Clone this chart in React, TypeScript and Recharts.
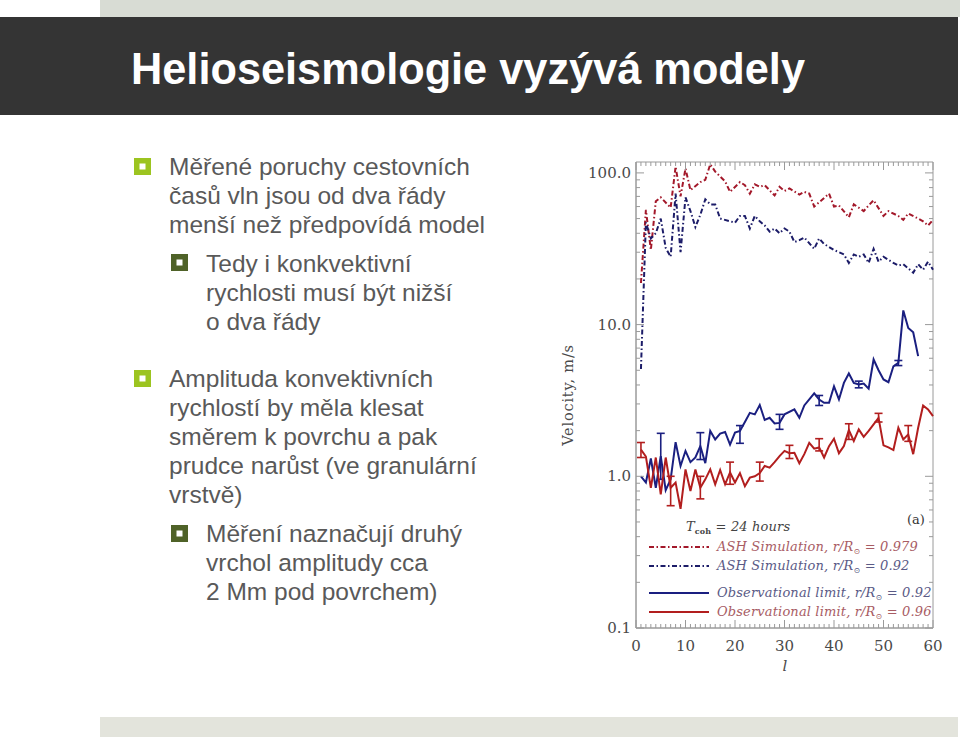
import React from "react";
import { LineChart, Line, XAxis, YAxis, ErrorBar, ReferenceArea } from "recharts";

// ASH simulation, r/R = 0.979 (red dash-dot)
const ashOuterL = [1, 2, 3, 4, 5, 7, 8, 9, 10, 11, 13, 14, 15, 16, 18, 19, 21, 22, 23, 24, 25, 26, 28, 29, 30, 31, 33, 34, 35, 36, 37, 39, 40, 41, 43, 44, 46, 47, 48, 50, 51, 53, 54, 55, 57, 58, 59, 60];
const ashOuterV = [18.8, 57, 31, 65, 69, 59, 110, 70, 107, 77, 87, 90, 114, 102, 88, 75, 87, 83, 73, 84, 81, 83, 71, 81, 76, 79, 72, 75, 73, 60, 64, 73, 60, 61, 51, 62, 56, 61, 66, 52, 56, 52, 49, 54, 50, 48, 45, 49];

// ASH simulation, r/R = 0.92 (blue dash-dot)
const ashDeepL = [1, 2, 3, 4, 5, 6, 7, 8, 9, 10, 11, 12, 13, 14, 15, 16, 17, 19, 20, 21, 22, 23, 24, 25, 26, 27, 28, 29, 30, 31, 32, 33, 34, 36, 37, 38, 40, 41, 42, 43, 44, 45, 46, 47, 48, 49, 50, 52, 53, 54, 56, 57, 58, 59, 60];
const ashDeepV = [5.1, 47, 37, 40, 50, 32, 28, 73, 30, 69, 56, 44, 53, 67, 62, 62, 50, 48, 47, 52, 52, 43, 52, 48, 45, 41, 43, 40, 43, 41, 35, 36, 37.5, 31.6, 37, 34, 31, 30, 29, 25.5, 29, 28, 29, 25.5, 31.6, 26, 28, 25.5, 24.5, 25, 22, 25, 23, 26, 23];

// observational limit, r/R = 0.92 (blue solid)
const obsDeepL = [1, 2, 3, 4, 5, 6, 7, 8, 9, 10, 11, 12, 13, 14, 15, 16, 17, 18, 19, 20, 21, 22, 23, 24, 25, 26, 27, 28, 29, 30, 32, 33, 34, 36, 37, 38, 39, 40, 41, 42, 43, 44, 45, 46, 47, 48, 49, 50, 51, 52, 53, 54, 55, 56, 57];
const obsDeepV = [1.0, 0.91, 1.31, 0.84, 1.36, 0.81, 0.955, 1.68, 1.17, 1.47, 1.24, 1.33, 1.58, 1.22, 1.99, 1.75, 1.91, 1.96, 1.62, 1.94, 1.99, 2.28, 2.62, 2.56, 2.95, 2.35, 2.43, 2.23, 2.25, 2.56, 2.76, 2.43, 2.93, 3.52, 3.21, 3.05, 3.05, 3.92, 3.21, 4.13, 4.76, 4.13, 4.03, 4.09, 3.78, 5.89, 5.0, 4.35, 4.17, 5.31, 5.59, 12.4, 9.5, 8.9, 6.2];
const obsDeepErrL = [5, 13, 21, 29, 37, 45, 53];
const obsDeepErrLo = [0.955, 1.29, 1.65, 2.04, 2.93, 3.83, 5.37];
const obsDeepErrHi = [1.92, 1.94, 2.16, 2.56, 3.41, 4.24, 5.8];

// observational limit, r/R = 0.96 (red solid)
const obsOuterL = [1, 2, 3, 4, 5, 6, 7, 8, 9, 10, 11, 12, 13, 14, 15, 16, 17, 18, 19, 20, 21, 22, 23, 24, 25, 26, 27, 28, 29, 30, 31, 32, 33, 34, 35, 36, 37, 38, 39, 40, 41, 42, 43, 44, 45, 46, 47, 48, 49, 50, 51, 52, 53, 54, 55, 56, 57, 58, 59, 60];
const obsOuterV = [1.5, 1.35, 0.84, 1.33, 0.76, 1.33, 0.84, 0.91, 0.61, 1.11, 0.8, 1.11, 0.84, 0.955, 1.11, 0.886, 1.1, 0.886, 1.06, 0.91, 1.05, 0.86, 0.98, 1.0, 1.05, 1.17, 1.14, 1.24, 1.36, 1.47, 1.42, 1.43, 1.22, 1.4, 1.66, 1.52, 1.55, 1.33, 1.58, 1.77, 1.42, 1.58, 2.02, 1.71, 2.04, 1.82, 1.99, 2.2, 2.43, 1.6, 1.55, 1.49, 2.09, 1.75, 1.89, 1.4, 2.09, 2.93, 2.76, 2.49];
const obsOuterErrL = [1, 7, 13, 19, 25, 31, 37, 43, 49, 55];
const obsOuterErrLo = [1.33, 0.64, 0.71, 0.886, 0.93, 1.31, 1.47, 1.75, 2.28, 1.7];
const obsOuterErrHi = [1.67, 1.0, 1.0, 1.24, 1.24, 1.6, 1.77, 2.22, 2.6, 2.16];

const yMajor = [0.1, 1, 10, 100];
const xMajor = [0, 10, 20, 30, 40, 50, 60];

const bulletLines1 = ["Měřené poruchy cestovních", "časů vln jsou od dva řády", "menší než předpovídá model"];
const subLines1 = ["Tedy i konkvektivní", "rychlosti musí být nižší", "o dva řády"];
const bulletLines2 = ["Amplituda konvektivních", "rychlostí by měla klesat", "směrem k povrchu a pak", "prudce narůst (ve granulární", "vrstvě)"];
const subLines2 = ["Měření naznačují druhý", "vrchol amplitudy cca", "2 Mm pod povrchem)"];

const yTicks: number[] = [];
for (let d = 0; d < 3; d++) {
  const base = yMajor[d];
  for (let k = 1; k < 10; k++) yTicks.push(base * k);
}
yTicks.push(100);
const xTicks: number[] = [];
for (let i = 0; i <= 60; i++) xTicks.push(i);

function rows(ls: number[], vs: number[], eL: number[] = [], eLo: number[] = [], eHi: number[] = []) {
  return ls.map((l, i) => {
    const j = eL.indexOf(l);
    const v = vs[i];
    return { l, v, err: j >= 0 ? [v - eLo[j], eHi[j] - v] : undefined };
  });
}

const ashOuter = rows(ashOuterL, ashOuterV);
const ashDeep = rows(ashDeepL, ashDeepV);
const obsDeep = rows(obsDeepL, obsDeepV, obsDeepErrL, obsDeepErrLo, obsDeepErrHi);
const obsOuter = rows(obsOuterL, obsOuterV, obsOuterErrL, obsOuterErrLo, obsOuterErrHi);

const RED_DASH = "#a3182a";
const BLUE_DASH = "#1c1c68";
const BLUE = "#1a1f80";
const RED = "#b21e1e";
const FRAME = "#9a9a9a";
const DASH = "5 2.5 1.5 2.5";
const SERIF = "'DejaVu Serif', 'Liberation Serif', serif";
const PLOT_W = 297;
const PLOT_H = 466;

function YTick(props: any) {
  const { x, y, payload } = props;
  const v = payload.value;
  const major = yMajor.some((m) => Math.abs(m - v) < 1e-9);
  const len = major ? 8 : 4;
  return (
    <g>
      <line x1={x} x2={x + len} y1={y} y2={y} stroke={FRAME} />
      <line x1={x + PLOT_W} x2={x + PLOT_W - len} y1={y} y2={y} stroke={FRAME} />
      {major && (
        <text x={x - 5} y={y} dy={5} textAnchor="end" fontFamily={SERIF} fontSize={15} fill="#4a4a4a">
          {v.toFixed(1)}
        </text>
      )}
    </g>
  );
}

function XTick(props: any) {
  const { x, y, payload } = props;
  const v = payload.value;
  const major = xMajor.includes(v);
  const len = major ? 8 : 4;
  return (
    <g>
      <line x1={x} x2={x} y1={y} y2={y - len} stroke={FRAME} />
      <line x1={x} x2={x} y1={y - PLOT_H} y2={y - PLOT_H + len} stroke={FRAME} />
      {major && (
        <text x={x} y={y + 23} textAnchor="middle" fontFamily={SERIF} fontSize={15} fill="#4a4a4a">
          {v}
        </text>
      )}
    </g>
  );
}

function Bullet({ x, y, color }: { x: number; y: number; color: string }) {
  return (
    <g>
      <rect x={x} y={y} width={17} height={17} fill={color} />
      <rect x={x + 5.5} y={y + 5.5} width={6} height={6} fill="#fff" />
    </g>
  );
}

function Rsun() {
  return (
    <>
      <tspan>r/R</tspan>
      <tspan fontSize={8} dy={3}>⊙</tspan>
      <tspan dy={-3}> = </tspan>
    </>
  );
}

export default function App() {
  const text = { fontFamily: "'Liberation Sans', Arial, sans-serif", fontSize: 24.5, fill: "#595959" };
  const legendText = { fontFamily: SERIF, fontStyle: "italic" as const, fontSize: 13, letterSpacing: 0.15, style: { whiteSpace: "pre" as const } };
  return (
    <div style={{ position: "absolute", left: 0, top: 0, width: 960, height: 738, background: "#fff", overflow: "hidden" }}>
      <svg width={960} height={738} style={{ position: "absolute", left: 0, top: 0 }}>
        <rect x={100} y={0} width={860} height={17} fill="#d8dcd4" />
        <rect x={0} y={17} width={958} height={98} fill="#343434" />
        <text x={131} y={84} fontFamily="'Liberation Sans', Arial, sans-serif" fontWeight="bold" fontSize={44} fill="#fff" textLength={674} lengthAdjust="spacingAndGlyphs">
          Helioseismologie vyzývá modely
        </text>
        <rect x={100} y={717} width={858} height={20} fill="#e3e4dc" />

        <Bullet x={134} y={158} color="#9cc420" />
        {bulletLines1.map((s, i) => (
          <text key={s} x={169} y={175 + i * 29} {...text}>{s}</text>
        ))}
        <Bullet x={171} y={254} color="#4f6228" />
        {subLines1.map((s, i) => (
          <text key={s} x={206} y={272 + i * 29} {...text}>{s}</text>
        ))}
        <Bullet x={134} y={370} color="#9cc420" />
        {bulletLines2.map((s, i) => (
          <text key={s} x={169} y={387 + i * 29} {...text}>{s}</text>
        ))}
        <Bullet x={171} y={525} color="#4f6228" />
        {subLines2.map((s, i) => (
          <text key={s} x={206} y={542 + i * 29} {...text}>{s}</text>
        ))}

        <text x={573} y={395} transform="rotate(-90 573 395)" textAnchor="middle" fontFamily={SERIF} fontSize={14.5} fill="#4a4a4a" letterSpacing={0.8}>
          Velocity, m/s
        </text>
        <text x={785} y={671} textAnchor="middle" fontFamily={SERIF} fontStyle="italic" fontSize={15} fill="#4a4a4a">l</text>

        <text x={907} y={524} fontFamily={SERIF} fontSize={13} fill="#333">(a)</text>
        <text x={686} y={531} {...legendText} fill="#444">
          <tspan>T</tspan>
          <tspan fontSize={8} fontStyle="normal" fontWeight="bold" dy={3}>coh</tspan>
          <tspan dy={-3}> = 24 hours</tspan>
        </text>
        <line x1={649} x2={709} y1={547} y2={547} stroke={RED_DASH} strokeWidth={1.8} strokeDasharray={DASH} />
        <text x={717} y={551} {...legendText} fill="#a85c64"><tspan>ASH Simulation, </tspan><Rsun /><tspan>0.979</tspan></text>
        <line x1={649} x2={709} y1={566} y2={566} stroke={BLUE_DASH} strokeWidth={1.8} strokeDasharray={DASH} />
        <text x={717} y={570} {...legendText} fill="#5a5a86"><tspan>ASH Simulation, </tspan><Rsun /><tspan>0.92</tspan></text>
        <line x1={649} x2={709} y1={593} y2={593} stroke={BLUE} strokeWidth={2} />
        <text x={717} y={597} {...legendText} fill="#5a5a86"><tspan>Observational limit, </tspan><Rsun /><tspan>0.92</tspan></text>
        <line x1={649} x2={709} y1={612} y2={612} stroke={RED} strokeWidth={2} />
        <text x={717} y={616} {...legendText} fill="#a85c64"><tspan>Observational limit, </tspan><Rsun /><tspan>0.96</tspan></text>
      </svg>

      <div style={{ position: "absolute", left: 550, top: 150 }}>
        <LineChart width={400} height={540} margin={{ top: 12, right: 17, bottom: 32, left: 26 }}>
          <XAxis
            dataKey="l"
            type="number"
            domain={[0, 60]}
            ticks={xTicks}
            interval={0}
            tick={<XTick />}
            tickLine={false}
            tickSize={0}
            tickMargin={0}
            axisLine={{ stroke: FRAME }}
            height={30}
          />
          <YAxis
            type="number"
            scale="log"
            domain={[0.1, 118]}
            allowDataOverflow
            ticks={yTicks}
            interval={0}
            tick={<YTick />}
            tickLine={false}
            tickSize={0}
            tickMargin={0}
            axisLine={{ stroke: FRAME }}
            width={60}
          />
          <ReferenceArea x1={0} x2={60} y1={0.1} y2={118} fill="none" stroke={FRAME} strokeWidth={1} />
          <Line data={ashOuter} dataKey="v" stroke={RED_DASH} strokeWidth={2} strokeDasharray={DASH} dot={false} isAnimationActive={false} />
          <Line data={ashDeep} dataKey="v" stroke={BLUE_DASH} strokeWidth={2} strokeDasharray={DASH} dot={false} isAnimationActive={false} />
          <Line data={obsDeep} dataKey="v" stroke={BLUE} strokeWidth={2} dot={false} isAnimationActive={false}>
            <ErrorBar dataKey="err" direction="y" width={4} stroke={BLUE} strokeWidth={1.6} />
          </Line>
          <Line data={obsOuter} dataKey="v" stroke={RED} strokeWidth={2} dot={false} isAnimationActive={false}>
            <ErrorBar dataKey="err" direction="y" width={4} stroke={RED} strokeWidth={1.6} />
          </Line>
        </LineChart>
      </div>
    </div>
  );
}
